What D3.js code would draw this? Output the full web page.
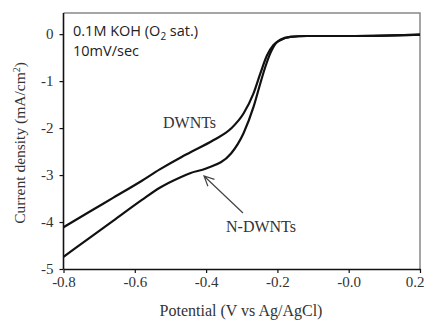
<!DOCTYPE html>
<html>
<head>
<meta charset="utf-8">
<script src="https://cdn.jsdelivr.net/npm/d3@7"></script>
<style>
  body { margin: 0; background: #fff; }
  svg { display: block; }
  .serif { font-family: "Liberation Serif", "Times New Roman", serif; fill: #333; }
</style>
</head>
<body>
<svg width="426" height="320"></svg>
<script>
// potential (V vs Ag/AgCl) and current density (mA/cm2)
const dwntV = [-0.80, -0.72, -0.66, -0.58, -0.53, -0.47, -0.445, -0.38, -0.33, -0.295, -0.267, -0.248, -0.229, -0.211, -0.192, -0.164, -0.117, 0.0, 0.1, 0.2]
const dwntI = [-4.11, -3.75, -3.48, -3.12, -2.88, -2.62, -2.52, -2.26, -2.01, -1.69, -1.26, -0.84, -0.45, -0.23, -0.13, -0.06, -0.04, -0.04, -0.03, -0.01]

const ndwntV = [-0.80, -0.72, -0.66, -0.58, -0.53, -0.47, -0.445, -0.40, -0.33, -0.295, -0.267, -0.248, -0.234, -0.220, -0.205, -0.192, -0.164, -0.117, 0.0, 0.1, 0.2]
const ndwntI = [-4.74, -4.30, -3.97, -3.53, -3.27, -3.04, -2.96, -2.86, -2.54, -2.11, -1.55, -1.05, -0.70, -0.41, -0.20, -0.12, -0.06, -0.04, -0.04, -0.03, -0.01]

const xTicks = [-0.8, -0.6, -0.4, -0.2, 0.0, 0.2]
const xTickLabels = ["-0.8", "-0.6", "-0.4", "-0.2", "-0.0", "0.2"]
const yTicks = [0, -1, -2, -3, -4, -5]
const yTickLabels = ["0", "-1", "-2", "-3", "-4", "-5"]

const svg = d3.select("svg")

const mLeft = 63.5, mRight = 420, mTop = 13, mBottom = 269

const x = d3.scaleLinear().domain([-0.8, 0.2]).range([mLeft, mRight])
const y = d3.scaleLinear().domain([-5, 0.45]).range([mBottom, mTop])

// frame (top + right are grey)
svg.append("path")
  .attr("d", `M${mLeft},${mTop}H${mRight}V${mBottom}`)
  .attr("fill", "none")
  .attr("stroke", "#888")
  .attr("stroke-width", 1.5)

const xAxis = svg.append("g")
  .attr("transform", `translate(0,${mBottom})`)
  .call(d3.axisBottom(x)
    .tickValues(xTicks)
    .tickFormat((d, i) => xTickLabels[i])
    .tickSize(4)
    .tickSizeOuter(0)
    .tickPadding(3))

const yAxis = svg.append("g")
  .attr("transform", `translate(${mLeft},0)`)
  .call(d3.axisLeft(y)
    .tickValues(yTicks)
    .tickFormat((d, i) => yTickLabels[i])
    .tickSize(4)
    .tickSizeOuter(0)
    .tickPadding(6))

svg.selectAll(".domain").attr("stroke", "#111").attr("stroke-width", 1.6)
svg.selectAll(".tick line").attr("stroke", "#111").attr("stroke-width", 1.2)
svg.selectAll(".tick text")
  .attr("class", "serif")
  .style("font-size", "15px")

// last x label sits against the edge
xAxis.selectAll(".tick text").filter((d, i) => i === xTicks.length - 1)
  .attr("text-anchor", "end")
  .attr("x", 4)

// y axis domain should run up to top of frame
yAxis.select(".domain").attr("d", `M0,${mBottom}V${mTop}`)

const line = d3.line()
  .x(d => x(d[0]))
  .y(d => y(d[1]))
  .curve(d3.curveMonotoneX)

const series = [
  d3.zip(dwntV, dwntI),
  d3.zip(ndwntV, ndwntI)
]

svg.selectAll("path.curve")
  .data(series)
  .enter()
  .append("path")
  .attr("class", "curve")
  .attr("d", line)
  .attr("fill", "none")
  .attr("stroke", "#111")
  .attr("stroke-width", 2.2)

// labels
svg.append("text")
  .attr("class", "serif")
  .attr("x", 163).attr("y", 128)
  .style("font-size", "16px")
  .text("DWNTs")

svg.append("text")
  .attr("class", "serif")
  .attr("x", 226).attr("y", 232)
  .style("font-size", "16px")
  .text("N-DWNTs")

// arrow to N-DWNTs curve
const tip = [204, 176], tail = [243, 213]
const ang = Math.atan2(tail[1] - tip[1], tail[0] - tip[0])
const headLen = 11, spread = 0.45
svg.append("path")
  .attr("d", `M${tail[0]},${tail[1]}L${tip[0]},${tip[1]}` +
    `M${tip[0] + headLen * Math.cos(ang - spread)},${tip[1] + headLen * Math.sin(ang - spread)}` +
    `L${tip[0]},${tip[1]}` +
    `L${tip[0] + headLen * Math.cos(ang + spread)},${tip[1] + headLen * Math.sin(ang + spread)}`)
  .attr("fill", "none")
  .attr("stroke", "#444")
  .attr("stroke-width", 1.2)

// condition note
const note = svg.append("g")
  .style("font-family", "'Open Sans', 'DejaVu Sans', sans-serif")
  .style("font-size", "14.5px")
  .style("fill", "#222")

const t1 = note.append("text").attr("x", 73).attr("y", 36)
t1.append("tspan").text("0.1M KOH (O")
t1.append("tspan").attr("dy", 4).style("font-size", "10px").text("2")
t1.append("tspan").attr("dy", -4).text(" sat.)")

note.append("text").attr("x", 73).attr("y", 56).text("10mV/sec")

// axis titles
svg.append("text")
  .attr("class", "serif")
  .attr("text-anchor", "middle")
  .attr("x", 241).attr("y", 316)
  .style("font-size", "16px")
  .text("Potential (V vs Ag/AgCl)")

const yt = svg.append("text")
  .attr("class", "serif")
  .attr("text-anchor", "middle")
  .attr("transform", `translate(25,143) rotate(-90)`)
  .style("font-size", "15.5px")
yt.append("tspan").text("Current density (mA/cm")
yt.append("tspan").attr("dy", -5).style("font-size", "10px").text("2")
yt.append("tspan").attr("dy", 5).text(")")
</script>
</body>
</html>
